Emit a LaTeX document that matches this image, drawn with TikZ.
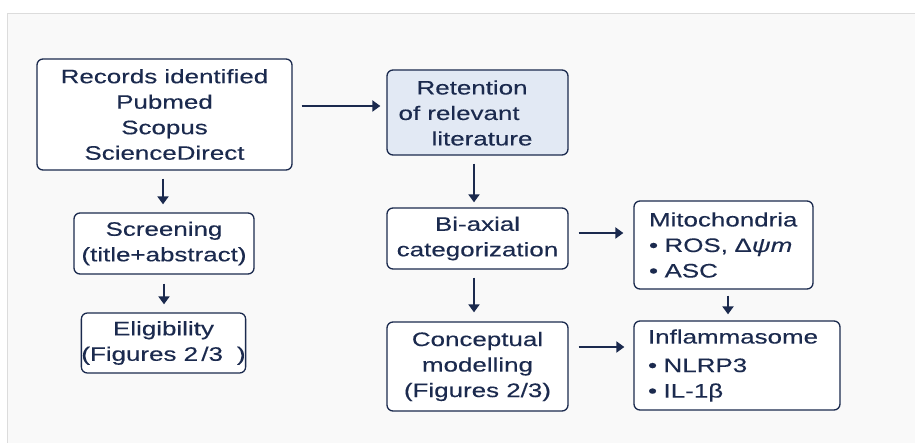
\documentclass[tikz,border=0pt]{standalone}
\usepackage{fontspec}
\setmainfont{Liberation Sans}[FakeStretch=1.33, FakeBold=0.3]
\usetikzlibrary{arrows.meta}
\definecolor{navy}{HTML}{1B2A4E}
\definecolor{panelbg}{HTML}{F9F9F9}
\definecolor{panelline}{HTML}{DCDCDC}
\definecolor{paleblue}{HTML}{E2E9F4}
\tikzset{
  box/.style={draw=navy, line width=1.3pt, rounded corners=6pt, fill=white,
    text=navy, font=\fontsize{19.5}{25.5}\selectfont, align=center, inner sep=0pt},
  plain/.style={text=navy, font=\fontsize{19.5}{25.5}\selectfont, inner sep=0pt},
  arr/.style={draw=navy, line width=2pt, -{Triangle[width=11pt,length=8pt]}},
}
\begin{document}
\begin{tikzpicture}[x=1pt,y=-1pt]
\useasboundingbox (0,0) rectangle (915,443);
\fill[white] (0,0) rectangle (915,443);
\fill[panelbg] (7,13.5) rectangle (915,443);
\draw[panelline, line width=1pt] (7,443) -- (7,13.5) -- (915,13.5);

\node[box, minimum width=255pt, minimum height=111pt] (rec) at (164.5,114.5)
  {Records identified\\Pubmed\\Scopus\\ScienceDirect};
\node[box, fill=paleblue, minimum width=181pt, minimum height=85pt] (ret) at (477.5,112.5) {};
\node[plain, align=left] (rettext) at (465.5,113)
  {\hspace*{18pt}Retention\\of relevant\\\hspace*{33pt}literature};
\node[box, minimum width=180pt, minimum height=61pt] (scr) at (164,243.5)
  {Screening\\(title+abstract)};
\node[box, minimum width=161pt, minimum height=60pt] (eli) at (163.5,343)
  {Eligibility\\(Figures 2\,/3\hspace{14pt})};
\node[box, minimum width=181pt, minimum height=61pt] (bi) at (477.5,238.5)
  {Bi-axial\\categorization};
\node[box, minimum width=181pt, minimum height=89pt] (con) at (477.5,366.5)
  {Conceptual\\modelling\\(Figures 2/3)};
\node[box, align=left, inner xsep=15pt, text width=149pt, minimum height=88pt] (mit) at (723.5,245)
  {Mitochondria\\• ROS, Δ\textit{ψm}\\• ASC};
\node[box, align=left, inner xsep=14pt, text width=178pt, minimum height=89pt] (inf) at (737,365.5)
  {Inflammasome\\[3pt]• NLRP3\\• IL-1β};

\draw[arr, shorten <=9pt, shorten >=6pt] ([yshift=8.5pt]rec.east) -- ([yshift=8.5pt]rec.east -| ret.west);
\draw[arr, shorten <=8pt, shorten >=8pt] ([xshift=-1.5pt]rec.south) -- ([xshift=-1.5pt]rec.south |- scr.north);
\draw[arr, shorten <=9pt, shorten >=8pt] (scr.south) -- (scr.south |- eli.north);
\draw[arr, shorten <=8pt, shorten >=5pt] ([xshift=-3.5pt]ret.south) -- ([xshift=-3.5pt]ret.south |- bi.north);
\draw[arr, shorten <=8pt, shorten >=9pt] ([xshift=-3.5pt]bi.south) -- ([xshift=-3.5pt]bi.south |- con.north);
\draw[arr, shorten <=10pt, shorten >=10pt] ([yshift=5.5pt]bi.east) -- ([yshift=5.5pt]bi.east -| mit.west);
\draw[arr, shorten <=10pt, shorten >=9pt] ([yshift=19.5pt]con.east) -- ([yshift=19.5pt]con.east -| inf.west);
\draw[arr, shorten <=6pt, shorten >=6pt] ([xshift=4.5pt]mit.south) -- ([xshift=4.5pt]mit.south |- inf.north);
\end{tikzpicture}
\end{document}
